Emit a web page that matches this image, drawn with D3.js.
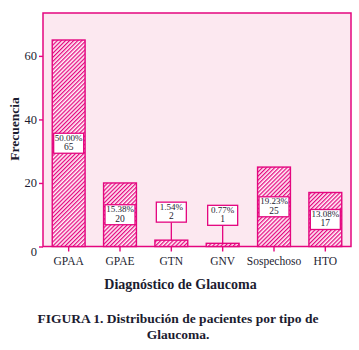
<!DOCTYPE html>
<html>
<head>
<meta charset="utf-8">
<script src="https://cdn.jsdelivr.net/npm/d3@7"></script>
<style>
  body { margin: 0; background: #fff; }
  text { font-family: "Liberation Serif", "DejaVu Serif", serif; }
</style>
</head>
<body>
<div id="chart"></div>
<script>
// chart values
const categories = ['GPAA', 'GPAE', 'GTN', 'GNV', 'Sospechoso', 'HTO'];
const counts = [65, 20, 2, 1, 25, 17];
const percents = ['50.00%', '15.38%', '1.54%', '0.77%', '19.23%', '13.08%'];
const yTicks = [0, 20, 40, 60];

const W = 359, H = 350;
const margin = {top: 13, right: 8, bottom: 103.5, left: 43};
const width = W - margin.left - margin.right;
const height = H - margin.top - margin.bottom;

const pink = '#e4067f';
const ink = '#1c1c30';

const svg = d3.select('#chart').append('svg')
    .attr('width', W)
    .attr('height', H);

// hatch pattern for the bars
const defs = svg.append('defs');
defs.append('pattern')
    .attr('id', 'hatch')
    .attr('patternUnits', 'userSpaceOnUse')
    .attr('width', 2.9)
    .attr('height', 2.9)
    .attr('patternTransform', 'rotate(45)')
  .call(p => {
    p.append('rect').attr('width', 2.9).attr('height', 2.9).attr('fill', '#fff4f9');
    p.append('rect').attr('width', 1.25).attr('height', 2.9).attr('fill', pink);
  });

const chart = svg.append('g')
    .attr('transform', `translate(${margin.left},${margin.top})`);

const x = d3.scaleBand()
    .domain(categories)
    .range([0, width])
    .paddingInner(0.36)
    .paddingOuter(0.18);

const y = d3.scaleLinear()
    .domain([0, 73.5])
    .range([height, 0]);

// plot background
chart.append('rect')
    .attr('width', width)
    .attr('height', height)
    .attr('fill', '#fce8f0')
    .attr('stroke', pink)
    .attr('stroke-width', 1.5);

const data = categories.map((c, i) => ({cat: c, n: counts[i], pct: percents[i]}));

// bars
chart.selectAll('.bar')
    .data(data)
  .join('rect')
    .attr('class', 'bar')
    .attr('x', d => x(d.cat))
    .attr('y', d => y(d.n))
    .attr('width', x.bandwidth())
    .attr('height', d => height - y(d.n))
    .attr('fill', 'url(#hatch)')
    .attr('stroke', pink)
    .attr('stroke-width', 1.4);

// axes
const yAxis = chart.append('g')
    .call(d3.axisLeft(y).tickValues(yTicks).tickSize(4).tickPadding(2));
const xAxis = chart.append('g')
    .attr('transform', `translate(0,${height})`)
    .call(d3.axisBottom(x).tickSize(5).tickPadding(5));

[yAxis, xAxis].forEach(a => {
  a.select('.domain').remove();
  a.selectAll('.tick line').attr('stroke', pink).attr('stroke-width', 1.4);
  a.selectAll('.tick text').attr('fill', ink)
      .style('font-family', '"Liberation Serif", serif');
});
yAxis.selectAll('.tick text').style('font-size', '12.5px');
yAxis.selectAll('.tick').filter(d => d === 0).select('text').attr('dy', '0.7em');
xAxis.selectAll('.tick text').style('font-size', '11.5px');

// value labels
const boxW = 30, boxH = 20;
const labels = chart.selectAll('.lbl')
    .data(data)
  .join('g')
    .attr('class', 'lbl')
    .attr('transform', d => {
      const inside = height - y(d.n) > 30;
      const cy = inside ? (y(d.n) + height) / 2 : y(d.n) - 28;
      return `translate(${x(d.cat) + x.bandwidth() / 2},${cy})`;
    });

labels.filter(d => height - y(d.n) <= 30)
  .append('line')
    .attr('y1', boxH / 2)
    .attr('y2', 28)
    .attr('stroke', pink)
    .attr('stroke-width', 1.3);

labels.append('rect')
    .attr('x', -boxW / 2)
    .attr('y', -boxH / 2)
    .attr('width', boxW)
    .attr('height', boxH)
    .attr('fill', '#fff')
    .attr('stroke', pink)
    .attr('stroke-width', 1.3);

labels.append('text')
    .attr('text-anchor', 'middle')
    .attr('y', -2.5)
    .attr('fill', ink)
    .style('font-size', '9px')
    .text(d => d.pct);

labels.append('text')
    .attr('text-anchor', 'middle')
    .attr('y', 7)
    .attr('fill', ink)
    .style('font-size', '9.5px')
    .text(d => d.n);

// axis titles
svg.append('text')
    .attr('transform', `translate(19,129) rotate(-90)`)
    .attr('text-anchor', 'middle')
    .attr('fill', ink)
    .style('font-size', '13.5px')
    .style('font-weight', 'bold')
    .text('Frecuencia');

svg.append('text')
    .attr('x', 180.5)
    .attr('y', 289)
    .attr('text-anchor', 'middle')
    .attr('fill', ink)
    .style('font-size', '14px')
    .style('font-weight', 'bold')
    .text('Diagnóstico de Glaucoma');

// caption
const caption = svg.append('text')
    .attr('text-anchor', 'middle')
    .attr('fill', ink)
    .style('font-size', '13.5px')
    .style('font-weight', 'bold');
caption.append('tspan').attr('x', 178).attr('y', 323)
    .text('FIGURA 1. Distribución de pacientes por tipo de');
caption.append('tspan').attr('x', 178).attr('y', 339)
    .text('Glaucoma.');
</script>
</body>
</html>
